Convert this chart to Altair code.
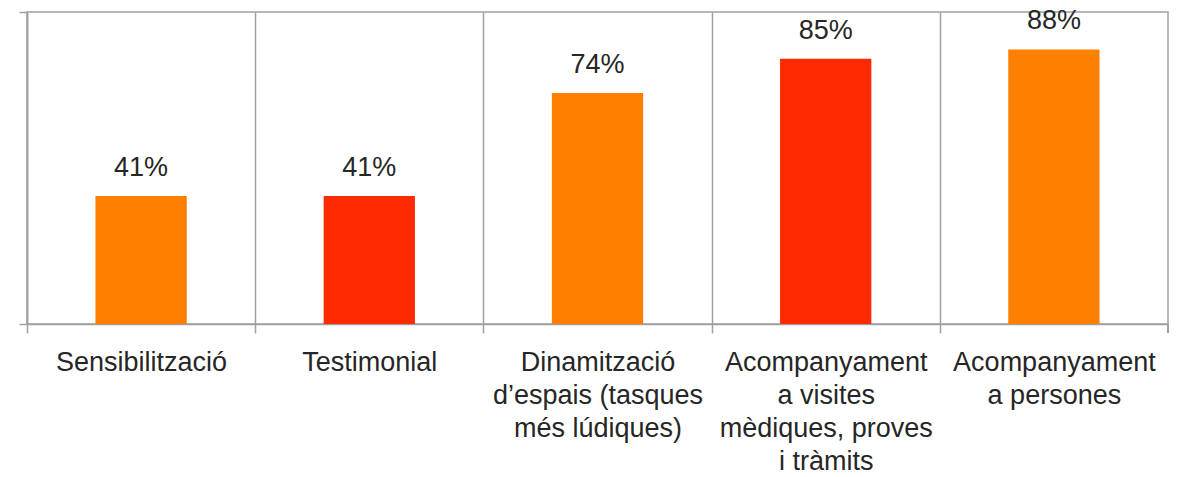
import altair as alt
import pandas as pd

categories = [
    "Sensibilització",
    "Testimonial",
    "Dinamització|d’espais (tasques|més lúdiques)",
    "Acompanyament|a visites|mèdiques, proves|i tràmits",
    "Acompanyament|a persones",
]
values = [41, 41, 74, 85, 88]
colors = ["#FF7F00", "#FF2A00", "#FF7F00", "#FF2A00", "#FF7F00"]
labels = [f"{v}%" for v in values]

df = pd.DataFrame({"cat": categories, "value": values, "color": colors, "label": labels})

W, H = 1141, 312
FONT = "Liberation Sans"
LINE = "#A0A0A0"
TXT = "#262626"
HALF_STEP = W / 10

x = alt.X(
    "cat:N",
    sort=None,
    title=None,
    scale=alt.Scale(paddingInner=0.6, paddingOuter=0.3),
    axis=alt.Axis(
        bandPosition=0.5,
        tickOffset=-HALF_STEP,
        labelOffset=HALF_STEP,
        labelAngle=0,
        labelExpr="split(datum.label, '|')",
        labelFont=FONT,
        labelFontSize=27,
        labelColor=TXT,
        labelLineHeight=33,
        labelPadding=16,
        labelLimit=400,
        labelOverlap=False,
        labelBound=False,
        tickSize=9,
        tickColor=LINE,
        tickWidth=1.5,
        domainColor=LINE,
        domainWidth=1.5,
        grid=True,
        gridColor=LINE,
        gridWidth=1.5,
    ),
)
y = alt.Y(
    "value:Q",
    title=None,
    scale=alt.Scale(domain=[0, 100]),
    axis=alt.Axis(
        values=[0, 100],
        labels=False,
        grid=False,
        tickSize=8,
        tickColor=LINE,
        tickWidth=1.5,
        domainColor=LINE,
        domainWidth=1.5,
    ),
)

base = alt.Chart(df).encode(x=x, y=y)
bars = base.mark_bar().encode(color=alt.Color("color:N", scale=None))
text = base.mark_text(baseline="middle", dy=-28, font=FONT, fontSize=27, color=TXT).encode(
    text="label:N"
)
rtick = alt.Chart(df).mark_rule(color=LINE, strokeWidth=1.5).encode(
    x=alt.value(W), y=alt.value(H), y2=alt.value(H + 9)
)

chart = (
    alt.layer(bars, text, rtick)
    .properties(
        width=W,
        height=H,
        padding={"left": 19, "top": 4, "right": 11, "bottom": 150},
        autosize=alt.AutoSizeParams(type="none"),
    )
    .configure_view(stroke=LINE, strokeWidth=1.5)
)

chart.save("out.html", embed_options={"renderer": "svg", "actions": False})
